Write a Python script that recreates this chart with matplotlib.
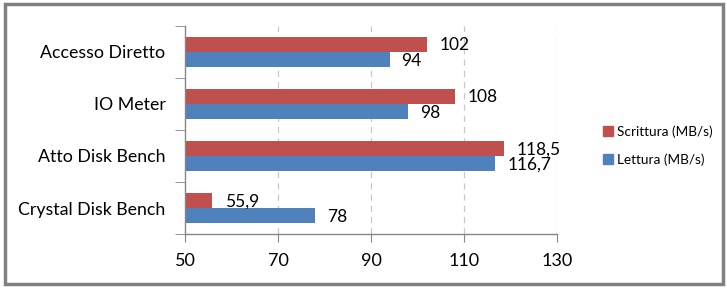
import matplotlib
matplotlib.use("Agg")
import matplotlib.pyplot as plt
from matplotlib.patches import Rectangle, Patch
import numpy as np

categories = ["Crystal Disk Bench", "Atto Disk Bench", "IO Meter", "Accesso Diretto"]
scrittura = [55.9, 118.5, 108, 102]
lettura = [78, 116.7, 98, 94]
scrittura_labels = ["55,9", "118,5", "108", "102"]
lettura_labels = ["78", "116,7", "98", "94"]
series_names = ["Scrittura (MB/s)", "Lettura (MB/s)"]
xticks = [50, 70, 90, 110, 130]

plt.rcParams['font.family'] = ['Lato', 'DejaVu Sans']

red = "#C0504D"
blue = "#4F81BD"
axis_col = "#868686"

fig = plt.figure(figsize=(7.27, 2.88), dpi=100)
ax = fig.add_axes([185/727, 1-234/288, (557-185)/727, (234-26)/288])

y = np.arange(len(categories))
h = 0.29
ax.barh(y + h/2, [v - 50 for v in scrittura], left=50, height=h, color=red, label=series_names[0])
ax.barh(y - h/2, [v - 50 for v in lettura], left=50, height=h, color=blue, label=series_names[1])

for i in range(len(categories)):
    ax.annotate(scrittura_labels[i], (scrittura[i], y[i] + h/2), xytext=(13, -1),
                textcoords="offset pixels", va="center", ha="left", fontsize=12.5)
    ax.annotate(lettura_labels[i], (lettura[i], y[i] - h/2), xytext=(12, -1),
                textcoords="offset pixels", va="center", ha="left", fontsize=12.5)

ax.set_xlim(50, 130)
ax.set_ylim(-0.5, len(categories) - 0.5)
ax.set_xticks(xticks)
ax.set_xticklabels([str(t) for t in xticks], fontsize=13)
ax.set_yticks(y)
ax.set_yticklabels(categories, fontsize=12.8)
ax.set_yticks(np.arange(-0.5, len(categories), 1), minor=True)
ax.tick_params(axis='y', which='major', length=0, pad=14)
ax.tick_params(axis='y', which='minor', length=7, color=axis_col, direction='out')
ax.tick_params(axis='x', which='major', length=6, color=axis_col, direction='out', pad=8)

for x in xticks[1:]:
    ax.axvline(x, color="#C8C8C8", linestyle=(0, (5, 4)), linewidth=0.9, zorder=0)

for s in ['top', 'right']:
    ax.spines[s].set_visible(False)
for s in ['left', 'bottom']:
    ax.spines[s].set_color(axis_col)
    ax.spines[s].set_linewidth(1.0)

handles = [Patch(color=red), Patch(color=blue)]
fig.legend(handles, series_names, loc="upper left", bbox_to_anchor=(591/727, 1-113/288),
           frameon=False, fontsize=9.8, handlelength=0.7, handleheight=0.7,
           handletextpad=0.3, labelspacing=1.15)

fig.patches.append(Rectangle((5/727, 4/288), 718/727, 280/288, transform=fig.transFigure,
                             fill=False, edgecolor="#808080", linewidth=2.5))

fig.savefig("out.png", dpi=100)
